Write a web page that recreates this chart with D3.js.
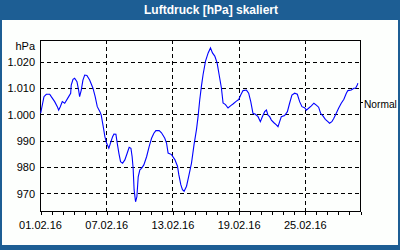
<!DOCTYPE html>
<html><head><meta charset="utf-8">
<script src="https://cdn.jsdelivr.net/npm/d3@7"></script>
<style>
html,body{margin:0;padding:0;background:#fff;}
svg{display:block;}
text{font-family:"Liberation Sans",Arial,sans-serif;}
</style></head>
<body>
<svg id="chart" width="400" height="250"></svg>
<script>
// ---- data ----
const title = "Luftdruck [hPa] skaliert";
const unitLabel = "hPa";
const startDate = "2016-02-01";
const endDate = "2016-03-01";
// time offsets in days from 01.02.16
const dayOffsets = [0.06,0.36,0.57,0.88,1.02,1.33,1.57,1.69,1.84,2.02,2.24,2.60,2.78,2.83,2.99,3.14,3.35,3.50,3.59,3.74,3.89,4.05,4.25,4.50,4.80,5.00,5.19,5.43,5.55,5.73,5.88,6.04,6.24,6.43,6.58,6.70,6.88,7.00,7.15,7.30,7.48,7.69,7.90,8.08,8.24,8.35,8.44,8.53,8.66,8.78,8.90,9.05,9.20,9.41,9.66,9.89,10.11,10.32,10.50,10.80,11.01,11.31,11.47,11.61,11.92,12.22,12.46,12.58,12.76,12.91,13.06,13.28,13.48,13.73,13.96,14.18,14.33,14.48,14.63,14.78,15.00,15.24,15.45,15.63,15.84,16.05,16.23,16.44,16.59,16.81,17.04,17.29,17.49,17.80,18.01,18.19,18.40,18.71,18.91,19.10,19.30,19.52,19.76,19.97,20.15,20.36,20.52,20.66,20.81,20.97,21.20,21.42,21.57,21.72,21.87,22.17,22.42,22.62,22.83,23.08,23.32,23.53,23.74,23.98,24.14,24.34,24.59,24.82,25.04,25.25,25.43,25.64,25.86,26.09,26.24,26.45,26.63,26.85,27.06,27.30,27.54,27.76,27.90,28.21,28.44,28.60,28.75,28.81];
const pressure = [1000.4,1006.7,1007.6,1007.6,1006.7,1004.8,1002.9,1001.6,1002.9,1004.8,1004.2,1006.7,1008.0,1011.1,1013.3,1013.7,1012.4,1009.2,1006.7,1009.2,1013.0,1014.9,1014.7,1013.0,1009.9,1006.7,1002.9,1001.0,999.7,995.3,991.5,989.0,987.1,989.6,991.5,992.5,992.4,989.0,985.2,982.0,981.4,982.7,985.2,987.5,987.1,983.9,979.5,971.3,966.8,968.7,976.3,978.9,979.5,980.8,983.9,987.7,990.9,992.8,993.8,993.8,993.0,990.9,989.0,985.3,984.7,982.8,980.3,977.1,973.3,971.4,970.8,972.7,976.5,981.5,988.5,994.2,999.3,1005.6,1010.7,1015.1,1020.2,1023.3,1025.2,1023.3,1022.1,1019.5,1015.1,1010.0,1004.3,1003.7,1002.4,1003.3,1003.9,1005.0,1005.6,1007.3,1009.0,1009.2,1008.0,1004.8,1000.4,1000.0,999.1,997.2,999.1,1001.0,1001.6,999.7,999.1,997.8,996.8,996.0,995.3,997.2,999.1,999.5,1001.0,1004.2,1007.3,1008.0,1007.6,1004.8,1002.9,1002.5,1001.6,1002.3,1003.2,1004.2,1003.5,1002.7,1000.4,999.4,998.1,997.2,996.6,997.2,998.5,1000.4,1002.3,1004.2,1005.7,1008.0,1009.0,1009.2,1009.9,1009.9,1011.1,1011.8];
const yTicks = [970,980,990,1000,1010,1020];
const xTickLabels = ["01.02.16","07.02.16","13.02.16","19.02.16","25.02.16"];
const normalValue = 1004.6;
const normalLabel = "Normal";
const yDomain = [963.3, 1028.2];

// ---- drawing ----
const svg = d3.select("#chart");
const W = 400, H = 250;
const blue = "#1d5e94";
svg.append("rect").attr("width",W).attr("height",H).attr("fill",blue);
svg.append("rect").attr("x",2).attr("y",20).attr("width",396).attr("height",225).attr("fill","#fdfffd");
svg.append("text").attr("x",211).attr("y",10).attr("dy","0.36em")
  .attr("text-anchor","middle").attr("fill","#fff").attr("font-weight","bold")
  .attr("font-size","12px").text(title);

const m = {l:40, r:360, t:40, b:211};
const parse = d3.utcParse("%Y-%m-%d");
const t0 = parse(startDate), t1 = parse(endDate);
const x = d3.scaleUtc().domain([t0,t1]).range([m.l,m.r]);
const y = d3.scaleLinear().domain(yDomain).range([m.b,m.t]);
const pdate = d3.utcParse("%d.%m.%y");
const fmtDE = d3.formatLocale({decimal:",",thousands:".",grouping:[3],currency:["","€"]}).format(",d");

const data = dayOffsets.map((d,i)=>({t:new Date(+t0 + d*864e5), v:pressure[i]}));

// grid
const grid = svg.append("g").attr("stroke","#000").attr("stroke-dasharray","4,3").attr("shape-rendering","crispEdges");
grid.selectAll(".hg").data(yTicks).join("line")
  .attr("x1",m.l).attr("x2",m.r).attr("y1",d=>Math.round(y(d))+0.5).attr("y2",d=>Math.round(y(d))+0.5);
grid.selectAll(".vg").data(xTickLabels.slice(1)).join("line")
  .attr("x1",d=>Math.round(x(pdate(d)))+0.5).attr("x2",d=>Math.round(x(pdate(d)))+0.5)
  .attr("y1",m.t).attr("y2",m.b);

// frame
svg.append("rect").attr("x",m.l+0.5).attr("y",m.t+0.5).attr("width",m.r-m.l).attr("height",m.b-m.t)
  .attr("fill","none").attr("stroke","#000").attr("shape-rendering","crispEdges");

// daily ticks
const xTicksAxis = d3.axisBottom(x).ticks(d3.utcDay.every(1)).tickFormat("").tickSizeInner(3).tickSizeOuter(0);
const gx = svg.append("g").attr("transform",`translate(0.5,${m.b+0.5})`).call(xTicksAxis);
gx.select(".domain").remove();
gx.selectAll("line").attr("shape-rendering","crispEdges");

// x labels
const xLab = d3.axisBottom(x).tickValues(xTickLabels.map(pdate)).tickFormat((d,i)=>xTickLabels[i]).tickSize(0);
const gxl = svg.append("g").attr("transform",`translate(0,${m.b})`).call(xLab);
gxl.select(".domain").remove();
gxl.selectAll("text").attr("y",14).attr("dy","0.36em").attr("font-size","11px").attr("font-family","Liberation Sans, Arial, sans-serif").attr("fill","#000");

// y labels
const yAx = d3.axisLeft(y).tickValues(yTicks).tickFormat(fmtDE).tickSize(0).tickPadding(5);
const gy = svg.append("g").attr("transform",`translate(${m.l},0)`).call(yAx);
gy.select(".domain").remove();
gy.selectAll("text").attr("font-size","11px").attr("font-family","Liberation Sans, Arial, sans-serif").attr("fill","#000").attr("dy","0.36em");

svg.append("text").attr("x",35).attr("y",46).attr("dy","0.36em").attr("text-anchor","end")
  .attr("font-size","11px").text(unitLabel);

// normal marker
const ny = Math.round(y(normalValue))+0.5;
svg.append("line").attr("x1",m.r).attr("x2",m.r+3).attr("y1",ny).attr("y2",ny).attr("stroke","#000").attr("shape-rendering","crispEdges");
svg.append("text").attr("x",364).attr("y",ny+1.5).attr("dy","0.36em").attr("font-size","10.2px").text(normalLabel);

// line
const line = d3.line().x(d=>x(d.t)).y(d=>y(d.v));
svg.append("path").datum(data).attr("d",line).attr("fill","none").attr("stroke","#0000ff").attr("stroke-width",1.1);
</script>
</body></html>
